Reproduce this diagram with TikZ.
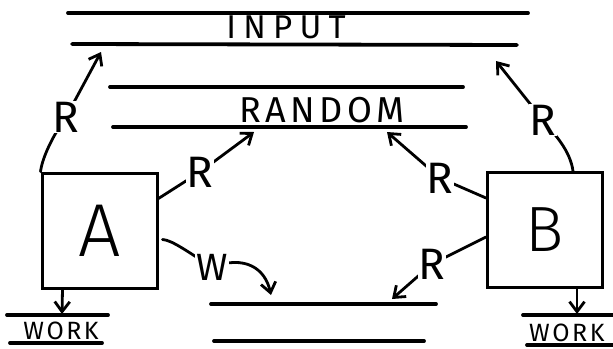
\documentclass[tikz,border=0pt]{standalone}
\usepackage{fontspec}
\newfontfamily\hand{Fira Sans}[UprightFont={* Light}]
\newfontfamily\handb{Fira Sans}
\usetikzlibrary{arrows.meta,calc}
\begin{document}
\begin{tikzpicture}[x=1pt,y=-1pt,
  tape/.style={line width=3.8pt, line cap=round},
  boxst/.style={draw, line width=3pt, minimum width=115pt, minimum height=115pt, inner sep=0pt},
  arr/.style={line width=2.8pt, line cap=round, -{Straight Barb[length=10pt,width=15pt,line width=2.8pt]}},
  lab/.style={fill=white, inner sep=1pt, font=\handb\fontsize{44}{44}\selectfont},
  tapetext/.style={inner sep=0pt, anchor=base}
]
\useasboundingbox (0,0) rectangle (613,348);
% tapes
\coordinate (in1l) at (68,13);  \coordinate (in1r) at (528,13);
\coordinate (in2l) at (72,44);  \coordinate (in2r) at (517,45);
\coordinate (ra1l) at (110,87); \coordinate (ra1r) at (463,87);
\coordinate (ra2l) at (113,127);\coordinate (ra2r) at (466,127);
\coordinate (ou1l) at (211,304);\coordinate (ou1r) at (436,304);
\coordinate (ou2l) at (214,341);\coordinate (ou2r) at (424,341);
\coordinate (wa1l) at (7,315);  \coordinate (wa1r) at (108,315);
\coordinate (wa2l) at (10,343); \coordinate (wa2r) at (102,343);
\coordinate (wb1l) at (523,315);\coordinate (wb1r) at (616,315);
\coordinate (wb2l) at (527,345);\coordinate (wb2r) at (616,345);
\foreach \p in {in1,in2,ra1,ra2,ou1,ou2,wa1,wa2,wb1,wb2}
  \draw[tape] (\p l) -- (\p r);
\node[tapetext, font=\handb\fontsize{33}{33}\selectfont\addfontfeature{LetterSpace=22}] (input) at (286,38) {INPUT};
\node[tapetext, font=\handb\fontsize{36}{36}\selectfont\addfontfeature{LetterSpace=12}] (random) at (322,122) {RANDOM};
\node[tapetext, font=\handb\fontsize{25}{25}\selectfont\addfontfeature{LetterSpace=10}] (worka) at (61,339) {WORK};
\node[tapetext, anchor=base west, font=\handb\fontsize{25}{25}\selectfont\addfontfeature{LetterSpace=10}] (workb) at (529,341) {WORK};
% boxes
\node[boxst, font=\hand\fontsize{75}{75}\selectfont] (A) at (99.5,230.5) {A};
\node[boxst, font=\hand\fontsize{64}{64}\selectfont] (B) at (545,230) {B};
\draw[line width=2.4pt] ([yshift=-2.5pt]A.north west) -- ([yshift=-2.5pt]A.north east);
% arrow ends
\coordinate (tIn1) at (101,52);
\coordinate (tRa) at (254,132);
\coordinate (tOa) at (271,295);
\coordinate (tRb) at (387,132);
\coordinate (tIn2) at (496,61);
\coordinate (tOb) at (392,299);
\coordinate (wA) at (62,314);
\coordinate (wB) at (577,314);
% connectors
\draw[arr] (A.north west) .. controls (42,160) and (50,140) .. (66,117) node[lab]{R} -- (tIn1);
\draw[arr] ([yshift=-27pt]A.north east) -- (200,172) node[lab]{R} -- (tRa);
\draw[arr] ([xshift=4pt,yshift=-9pt]A.east) .. controls (172,240) and (188,252) .. (212,267) node[lab,font=\handb\fontsize{38}{38}\selectfont]{W} .. controls (245,255) and (265,268) .. (tOa);
\draw[arr] ([yshift=-27pt]B.north west) -- (440,178) node[lab]{R} -- (tRb);
\draw[arr] ([xshift=28pt]B.north) .. controls (570,150) and (555,135) .. (543,120) node[lab]{R} -- (tIn2);
\draw[arr] ([yshift=-7pt]B.west) -- (432,264) node[lab]{R} -- (tOb);
\draw[arr] ([xshift=-37pt]A.south) -- (wA);
\draw[arr] ([xshift=32pt]B.south) -- (wB);
\end{tikzpicture}
\end{document}
